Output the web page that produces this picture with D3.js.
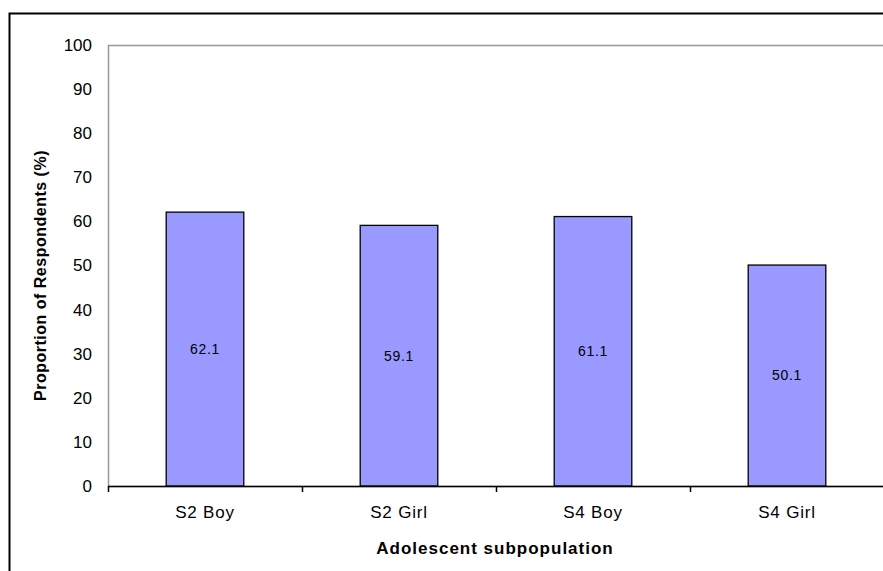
<!DOCTYPE html>
<html>
<head>
<meta charset="utf-8">
<script src="https://cdn.jsdelivr.net/npm/d3@7"></script>
<style>
  html, body { margin: 0; padding: 0; background: #fff; }
  svg { display: block; font-family: "Liberation Sans", Arial, sans-serif; }
</style>
</head>
<body>
<svg id="chart" width="883" height="571"></svg>
<script>
// Survey results by adolescent subpopulation
const categories = ["S2 Boy", "S2 Girl", "S4 Boy", "S4 Girl"];
const values = [62.1, 59.1, 61.1, 50.1];
const yTicks = [0, 10, 20, 30, 40, 50, 60, 70, 80, 90, 100];
const yTitle = "Proportion of Respondents (%)";
const xTitle = "Adolescent subpopulation";

const svg = d3.select("#chart");
const plot = { left: 108, top: 45, right: 884, bottom: 486 };

// Outer chart frame (extends past the right/bottom edge)
svg.append("rect")
  .attr("x", 9.5).attr("y", 13.5)
  .attr("width", 900).attr("height", 600)
  .attr("fill", "#fff").attr("stroke", "#000").attr("stroke-width", 2);

const x = d3.scaleBand().domain(categories).range([plot.left, plot.right]).padding(0);
const y = d3.scaleLinear().domain([0, 100]).range([plot.bottom, plot.top]);

// Plot area border (grey)
svg.append("rect")
  .attr("x", plot.left + 0.5).attr("y", plot.top + 0.5)
  .attr("width", plot.right - plot.left).attr("height", plot.bottom - plot.top)
  .attr("fill", "#fff").attr("stroke", "#999").attr("stroke-width", 1.5);

// Bars
const barW = x.bandwidth() * 0.4;
svg.append("g").selectAll("rect").data(values).join("rect")
  .attr("x", (d, i) => x(categories[i]) + (x.bandwidth() - barW) / 2)
  .attr("y", d => y(d))
  .attr("width", barW)
  .attr("height", d => y(0) - y(d))
  .attr("fill", "#9999FF")
  .attr("stroke", "#000")
  .attr("stroke-width", 1.3);

// Value labels centred in each bar
svg.append("g").selectAll("text").data(values).join("text")
  .attr("x", (d, i) => x(categories[i]) + x.bandwidth() / 2)
  .attr("y", d => (y(d) + y(0)) / 2)
  .attr("dy", "0.35em")
  .attr("text-anchor", "middle")
  .attr("font-size", 14)
  .attr("letter-spacing", "0.7px")
  .attr("fill", "#000")
  .text(d => d.toFixed(1));

// Y axis labels (no tick marks)
const yAxis = d3.axisLeft(y).tickValues(yTicks).tickSize(0).tickPadding(16);
const gy = svg.append("g").attr("transform", `translate(${plot.left},0)`).call(yAxis);
gy.select(".domain").remove();
gy.selectAll("text").attr("font-size", 17).attr("font-family", "Liberation Sans, Arial, sans-serif").attr("fill", "#000");

// X axis line and boundary ticks
svg.append("line")
  .attr("x1", plot.left).attr("x2", plot.right + 5)
  .attr("y1", y(0) + 0.5).attr("y2", y(0) + 0.5)
  .attr("stroke", "#000").attr("stroke-width", 1.5);
const bounds = categories.map(c => x(c)).concat([plot.right]);
svg.append("g").selectAll("line").data(bounds).join("line")
  .attr("x1", d => d + 0.5).attr("x2", d => d + 0.5)
  .attr("y1", y(0)).attr("y2", y(0) + 6)
  .attr("stroke", "#000").attr("stroke-width", 1.5);

svg.append("g").selectAll("text").data(categories).join("text")
  .attr("x", d => x(d) + x.bandwidth() / 2)
  .attr("y", 518)
  .attr("text-anchor", "middle")
  .attr("font-size", 17)
  .attr("letter-spacing", "0.8px")
  .attr("fill", "#000")
  .text(d => d);

// Axis titles
svg.append("text")
  .attr("transform", `translate(46,${(plot.top + plot.bottom) / 2 + 10}) rotate(-90)`)
  .attr("text-anchor", "middle")
  .attr("font-size", 16)
  .attr("font-weight", "bold")
  .attr("letter-spacing", "0.5px")
  .text(yTitle);

svg.append("text")
  .attr("x", 495).attr("y", 554)
  .attr("text-anchor", "middle")
  .attr("font-size", 17)
  .attr("font-weight", "bold")
  .attr("letter-spacing", "1px")
  .text(xTitle);
</script>
</body>
</html>
